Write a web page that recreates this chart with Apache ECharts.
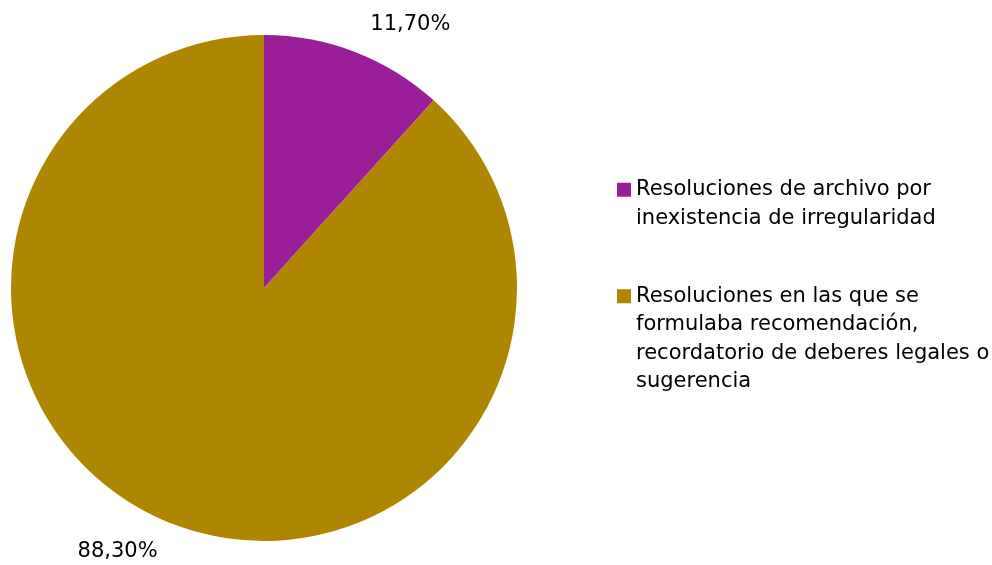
<!DOCTYPE html>
<html>
<head>
<meta charset="utf-8">
<script src="https://cdn.jsdelivr.net/npm/echarts@6/dist/echarts.min.js"></script>
<style>
  html, body { margin: 0; padding: 0; background: #fff; }
  #chart { width: 992px; height: 565px; }
</style>
</head>
<body>
<div id="chart"></div>
<script>
const categories = [
  'Resoluciones de archivo por inexistencia de irregularidad',
  'Resoluciones en las que se formulaba recomendación, recordatorio de deberes legales o sugerencia'
]
const legendLines = [
  ['Resoluciones de archivo por', 'inexistencia de irregularidad'],
  ['Resoluciones en las que se', 'formulaba recomendación,', 'recordatorio de deberes legales o', 'sugerencia']
]
const values = [11.7, 88.3]
const colors = ['#991e98', '#ae8600']

const FONT = '"DejaVu Sans", sans-serif'
const LH = 28.5

// blank lines in front keep the first line level with the legend square
function legendText(name) {
  const lines = legendLines[categories.indexOf(name)]
  return '\n'.repeat(lines.length - 1) + lines.join('\n')
}

const chart = echarts.init(document.getElementById('chart'))

chart.setOption({
  animation: false,
  legend: {
    orient: 'vertical',
    left: 617,
    top: 147,
    padding: 0,
    itemWidth: 14,
    itemHeight: 14,
    itemGap: -36,
    icon: 'rect',
    selectedMode: false,
    formatter: legendText,
    textStyle: { fontFamily: FONT, fontSize: 21, color: '#000', lineHeight: LH },
    data: categories
  },
  series: [{
    type: 'pie',
    center: [264, 288],
    radius: 253,
    startAngle: 90,
    clockwise: true,
    avoidLabelOverlap: false,
    label: {
      show: true,
      position: 'outside',
      fontFamily: FONT,
      fontSize: 21,
      color: '#000',
      formatter: p => p.value.toFixed(2).replace('.', ',') + '%'
    },
    labelLine: { show: false, length: 29, length2: 0 },
    emphasis: { disabled: true },
    data: categories.map((c, i) => ({ name: c, value: values[i], itemStyle: { color: colors[i] } }))
  }]
})
</script>
</body>
</html>
